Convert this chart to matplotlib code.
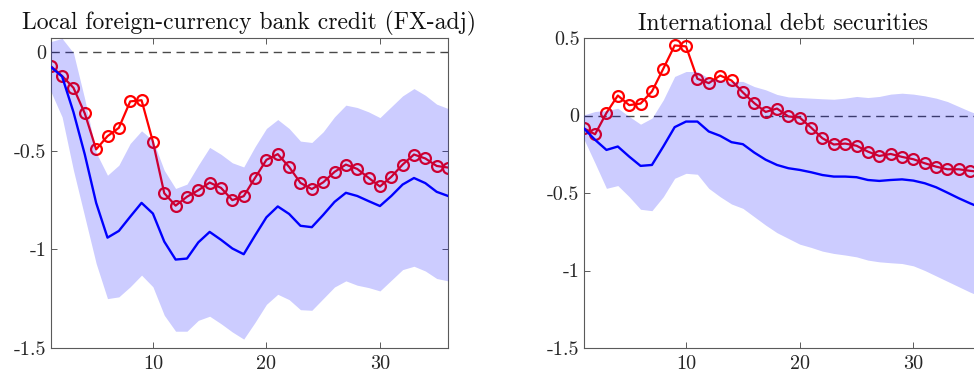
import numpy as np
import matplotlib
matplotlib.use("Agg")
import matplotlib.pyplot as plt

plt.rcParams['font.family'] = 'cmr10'
plt.rcParams['axes.unicode_minus'] = False

horizon = np.arange(1, 37)

# Local foreign-currency bank credit (FX-adj)
fx_alt = [-0.072, -0.122, -0.182, -0.312, -0.494, -0.427, -0.385, -0.251, -0.245, -0.455,
          -0.716, -0.779, -0.734, -0.701, -0.662, -0.689, -0.751, -0.731, -0.638, -0.547,
          -0.518, -0.583, -0.664, -0.695, -0.661, -0.608, -0.571, -0.593, -0.638, -0.682,
          -0.633, -0.571, -0.520, -0.540, -0.578, -0.586]
fx_irf = [-0.076, -0.125, -0.305, -0.520, -0.765, -0.941, -0.907, -0.835, -0.765, -0.819,
          -0.961, -1.052, -1.047, -0.965, -0.912, -0.952, -0.996, -1.025, -0.930, -0.838,
          -0.783, -0.821, -0.881, -0.888, -0.826, -0.760, -0.714, -0.730, -0.756, -0.781,
          -0.730, -0.672, -0.639, -0.665, -0.709, -0.730]
fx_hi = [0.052, 0.068, -0.005, -0.240, -0.510, -0.625, -0.574, -0.464, -0.400, -0.448,
         -0.600, -0.692, -0.670, -0.574, -0.484, -0.519, -0.562, -0.583, -0.480, -0.388,
         -0.343, -0.388, -0.452, -0.459, -0.405, -0.329, -0.270, -0.282, -0.304, -0.333,
         -0.278, -0.223, -0.186, -0.220, -0.265, -0.287]
fx_lo = [-0.200, -0.330, -0.600, -0.836, -1.072, -1.250, -1.241, -1.190, -1.131, -1.190,
         -1.334, -1.415, -1.415, -1.360, -1.339, -1.377, -1.419, -1.455, -1.370, -1.279,
         -1.228, -1.255, -1.306, -1.309, -1.250, -1.191, -1.160, -1.182, -1.194, -1.211,
         -1.157, -1.103, -1.086, -1.110, -1.148, -1.160]

# International debt securities
ids_alt = [-0.082, -0.121, 0.017, 0.129, 0.067, 0.077, 0.155, 0.302, 0.452, 0.446,
           0.237, 0.209, 0.258, 0.226, 0.149, 0.080, 0.023, 0.045, -0.006, -0.013,
           -0.078, -0.147, -0.187, -0.181, -0.195, -0.233, -0.261, -0.248, -0.267, -0.282,
           -0.308, -0.330, -0.347, -0.347, -0.357, -0.365]
ids_irf = [-0.082, -0.157, -0.222, -0.200, -0.265, -0.325, -0.319, -0.200, -0.075, -0.039,
           -0.039, -0.103, -0.131, -0.172, -0.185, -0.239, -0.285, -0.319, -0.340, -0.351,
           -0.366, -0.384, -0.394, -0.394, -0.398, -0.416, -0.422, -0.416, -0.412, -0.420,
           -0.437, -0.463, -0.498, -0.534, -0.567, -0.597]
ids_hi = [0.004, 0.026, 0.032, 0.047, -0.006, -0.056, -0.017, 0.101, 0.252, 0.284,
          0.284, 0.241, 0.230, 0.220, 0.220, 0.187, 0.166, 0.136, 0.120, 0.116,
          0.112, 0.108, 0.105, 0.112, 0.123, 0.116, 0.123, 0.138, 0.144, 0.138,
          0.127, 0.112, 0.090, 0.058, 0.026, 0.000]
ids_lo = [-0.150, -0.308, -0.470, -0.452, -0.524, -0.605, -0.614, -0.524, -0.405, -0.373,
          -0.379, -0.470, -0.524, -0.571, -0.599, -0.653, -0.707, -0.756, -0.793, -0.830,
          -0.851, -0.875, -0.890, -0.900, -0.912, -0.933, -0.944, -0.950, -0.955, -0.970,
          -1.000, -1.035, -1.070, -1.105, -1.140, -1.170]

panels = [
    ("Local foreign-currency bank credit (FX-adj)", fx_alt, fx_irf, fx_lo, fx_hi,
     (-1.5, 0.07), [-1.5, -1, -0.5, 0], ["-1.5", "-1", "-0.5", "0"]),
    ("International debt securities", ids_alt, ids_irf, ids_lo, ids_hi,
     (-1.5, 0.5), [-1.5, -1, -0.5, 0, 0.5], ["-1.5", "-1", "-0.5", "0", "0.5"]),
]

fig = plt.figure(figsize=(9.74, 3.72), dpi=100)
# second panel runs past the right edge of the figure
ax_rects = [[0.0521, 0.0645, 0.4079, 0.8333],
            [0.5993, 0.0645, 0.4085, 0.8333]]

for rect, (title, alt, irf, lo, hi, ylim, yt, ytl) in zip(ax_rects, panels):
    ax = fig.add_axes(rect)
    ax.axhline(0, color='#4a4a4a', lw=1.0, dashes=(6, 4), zorder=1)
    ax.plot(horizon, alt, '-o', color='red', lw=1.6, ms=7.8, mew=1.6,
            mfc='none', zorder=2)
    ax.fill_between(horizon, lo, hi, color='blue', alpha=0.2, lw=0, zorder=3)
    ax.plot(horizon, irf, color='blue', lw=1.7, zorder=4)

    ax.set_xlim(1, 36)
    ax.set_ylim(*ylim)
    ax.set_xticks([10, 20, 30])
    ax.set_xticklabels(["10", "20", "30"])
    ax.set_yticks(yt)
    ax.set_yticklabels(ytl)
    ax.tick_params(direction='in', length=4, width=0.6, color='#404040',
                   top=True, right=True, labelsize=14.5, labelcolor='#262626')
    ax.tick_params(axis='x', pad=5)
    ax.tick_params(axis='y', pad=3)
    for sp in ax.spines.values():
        sp.set_color('#5a5a5a')
        sp.set_linewidth(0.8)
    ax.set_title(title, fontsize=17, pad=6, color='#111111')

fig.savefig("out.png", dpi=100)
